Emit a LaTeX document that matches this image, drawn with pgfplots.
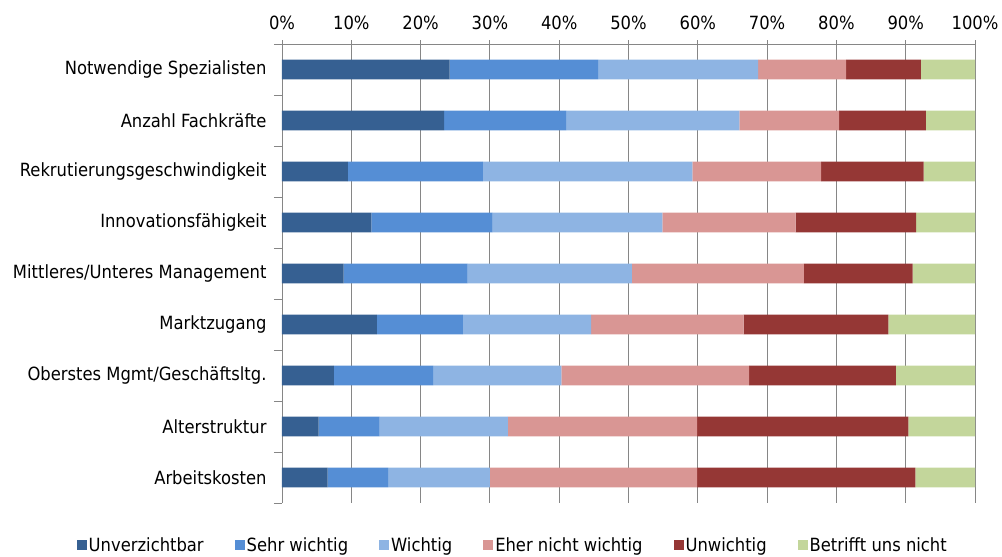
\documentclass[border=0pt]{standalone}
\usepackage{pgfplots}
\pgfplotsset{compat=1.18}
\usepackage{fontspec}
\setmainfont{DejaVu Sans Condensed}
\definecolor{c1}{RGB}{54,96,146}
\definecolor{c2}{RGB}{85,142,213}
\definecolor{c3}{RGB}{142,180,227}
\definecolor{c4}{RGB}{217,150,148}
\definecolor{c5}{RGB}{149,55,53}
\definecolor{c6}{RGB}{195,214,155}
\definecolor{axisgray}{RGB}{134,134,134}
\begin{document}
\begin{tikzpicture}[x=1pt,y=1pt]
\useasboundingbox (-282,-54) rectangle (720,503);
\begin{axis}[
  scale only axis, width=693pt, height=459pt,
  xbar stacked, bar width=0.39,
  xmin=0, xmax=100, ymin=-0.5, ymax=8.5, y dir=reverse,
  axis x line=top, axis y line=left,
  axis line style={draw=axisgray, line width=0.8pt, -},
  xtick={0,10,...,100},
  xticklabel={\pgfmathprintnumber{\tick}\%},
  xticklabel style={yshift=7pt},
  xmajorgrids, grid style={draw=axisgray, line width=0.8pt},
  x tick style={draw=axisgray, line width=0.8pt},
  xtick align=center, major tick length=8pt,
  ytick={-0.5,0.5,...,8.5}, yticklabels={},
  y tick style={draw=axisgray, line width=0.8pt},
  ytick align=outside,
  extra y ticks={0,1,2,3,4,5,6,7,8},
  extra y tick labels={Notwendige Spezialisten,Anzahl Fachkräfte,Rekrutierungsgeschwindigkeit,Innovationsfähigkeit,Mittleres/Unteres Management,Marktzugang,Oberstes Mgmt/Geschäftsltg.,Alterstruktur,Arbeitskosten},
  extra y tick style={major tick length=0pt, grid=none, yticklabel style={xshift=-12pt}},
  ticklabel style={font=\fontsize{18.2}{21}\selectfont},
  /pgf/number format/assume math mode=true,
  legend columns=6,
  legend style={at={(0.333,-0.0915)}, anchor=center, draw=none, fill=none,
    font=\fontsize{18.2}{21}\selectfont,
    /tikz/every even column/.append style={column sep=29pt},
    /tikz/every odd column/.append style={column sep=0pt}},
  legend image code/.code={\fill[#1] (0pt,-5pt) rectangle (10pt,5pt);},
]
\addplot[fill=c1, draw=none] coordinates {(24.2,0) (23.4,1) (9.5,2) (12.9,3) (8.9,4) (13.7,5) (7.5,6) (5.3,7) (6.6,8)};
\addplot[fill=c2, draw=none] coordinates {(21.4,0) (17.6,1) (19.5,2) (17.5,3) (17.9,4) (12.4,5) (14.3,6) (8.8,7) (8.7,8)};
\addplot[fill=c3, draw=none] coordinates {(23.1,0) (25.0,1) (30.2,2) (24.5,3) (23.7,4) (18.5,5) (18.5,6) (18.5,7) (14.7,8)};
\addplot[fill=c4, draw=none] coordinates {(12.7,0) (14.4,1) (18.6,2) (19.2,3) (24.8,4) (22.0,5) (27.1,6) (27.3,7) (29.9,8)};
\addplot[fill=c5, draw=none] coordinates {(10.8,0) (12.5,1) (14.8,2) (17.4,3) (15.7,4) (20.9,5) (21.2,6) (30.5,7) (31.5,8)};
\addplot[fill=c6, draw=none] coordinates {(7.8,0) (7.1,1) (7.4,2) (8.5,3) (9.0,4) (12.5,5) (11.4,6) (9.6,7) (8.6,8)};
\legend{Unverzichtbar,Sehr wichtig,Wichtig,Eher nicht wichtig,Unwichtig,Betrifft uns nicht}
\end{axis}
\end{tikzpicture}
\end{document}
